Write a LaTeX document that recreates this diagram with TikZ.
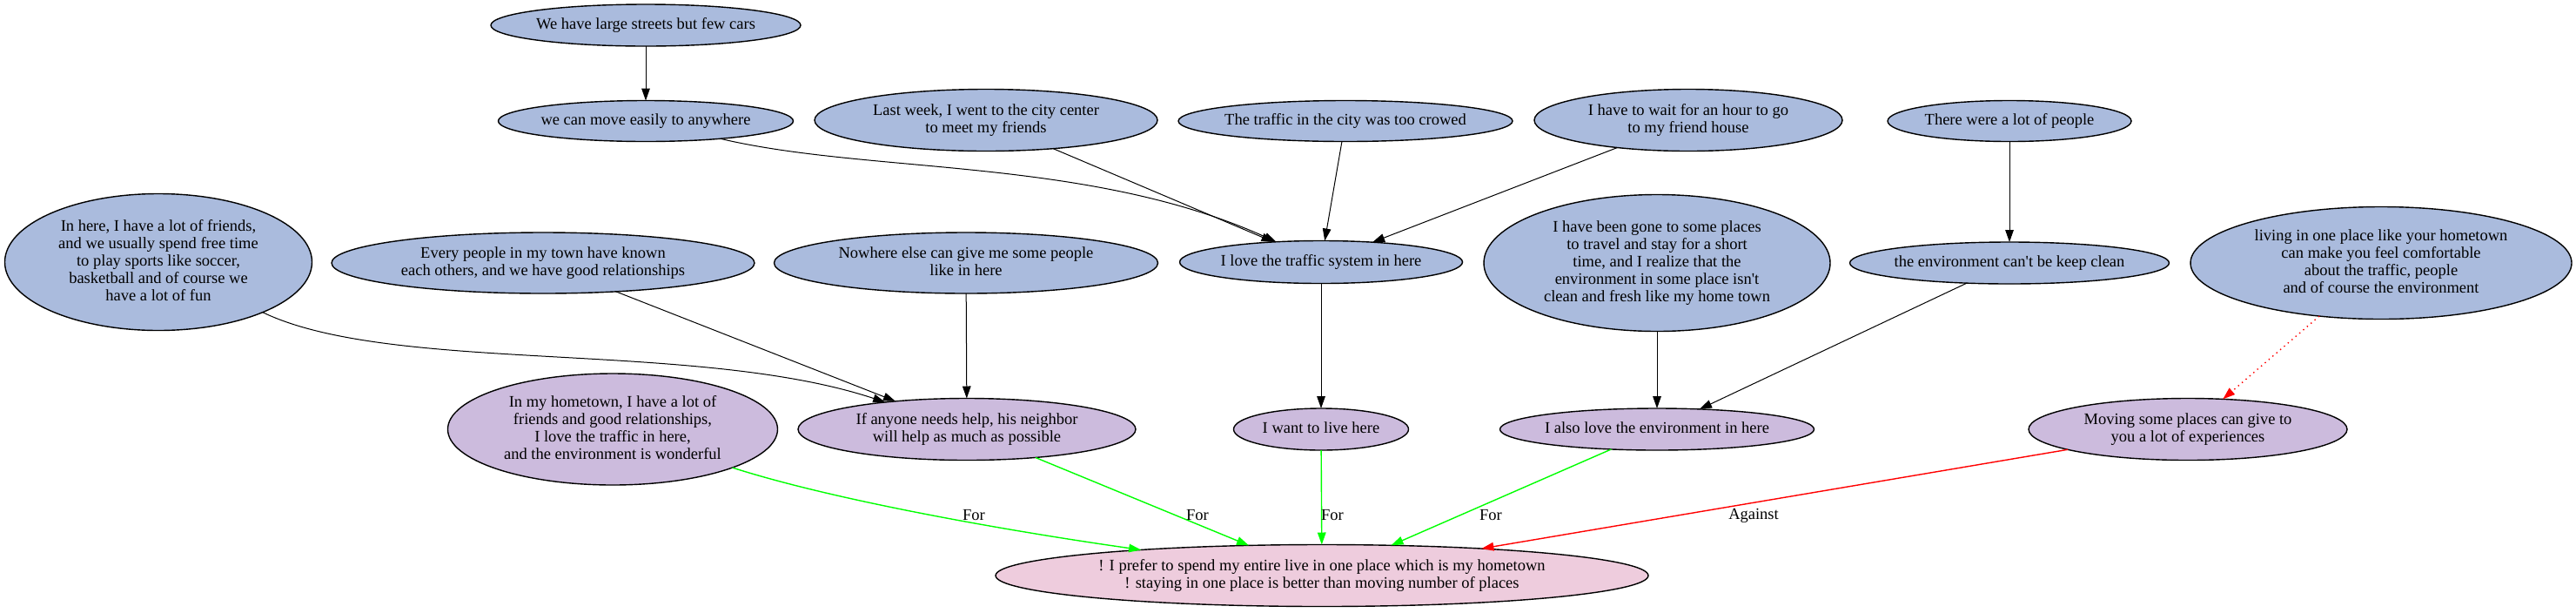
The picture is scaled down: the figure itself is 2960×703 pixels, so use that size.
\documentclass[tikz,border=0pt]{standalone}
\usepackage{fontspec}
\setmainfont{Liberation Serif}
\usetikzlibrary{arrows.meta,shapes.geometric}
\definecolor{nblue}{HTML}{AABBDD}
\definecolor{npurp}{HTML}{CCBBDD}
\definecolor{npink}{HTML}{EECCDD}
\definecolor{egreen}{HTML}{00FF00}
\definecolor{ered}{HTML}{FF0000}
\newcommand{\ntxt}[1]{\raisebox{-0.25em}[0pt][0pt]{\makebox[0pt]{\begin{tabular}{@{}c@{}}#1\end{tabular}}}}
\tikzset{
  base/.style={ellipse, draw=black, line width=0.7pt, inner sep=0pt, outer sep=0pt, font=\fontsize{9.25}{10}\selectfont},
  sz/.style 2 args={minimum width=#1*0.5pt, minimum height=#2*0.5pt},
  prem/.style={base, fill=nblue},
  sub/.style={base, fill=npurp},
  root/.style={base, fill=npink},
  edge/.style={line width=0.5pt, -{Triangle[length=7pt,width=4.8pt]}},
  foredge/.style={edge, draw=egreen, line width=0.7pt},
  conedge/.style={edge, draw=ered, line width=0.7pt},
  dotedge/.style={line width=0.7pt, draw=ered, dash pattern=on 0.7pt off 2.2pt, -{Triangle[length=7pt,width=4.8pt,sep=0pt]}},
  elabel/.style={font=\fontsize{9.25}{10}\selectfont, inner sep=0pt, fill=none, draw=none}
}
\begin{document}
\begin{tikzpicture}[x=0.5pt, y=-0.5pt]
\fill[white] (0,0) rectangle (2960,703);
\useasboundingbox (0,0) rectangle (2960,703);

\node[prem, sz={356}{48}] (A) at (742,29) {\ntxt{We have large streets but few cars}};
\node[prem, sz={339}{47}] (B) at (742,139) {\ntxt{we can move easily to anywhere}};
\node[prem, sz={394}{71}] (C) at (1133,138) {\ntxt{Last week, I went to the city center\\to meet my friends}};
\node[prem, sz={384}{47}] (D) at (1546,139) {\ntxt{The traffic in the city was too crowed}};
\node[prem, sz={354}{71}] (E) at (1940,138) {\ntxt{I have to wait for an hour to go\\to my friend house}};
\node[prem, sz={280}{47}] (I) at (2309,139) {\ntxt{There were a lot of people}};

\node[prem, sz={353}{157}] (L) at (182,301) {\ntxt{In here, I have a lot of friends,\\and we usually spend free time\\to play sports like soccer,\\basketball and of course we\\have a lot of fun}};
\node[prem, sz={486}{70}] (M) at (624,302) {\ntxt{Every people in my town have known\\each others, and we have good relationships}};
\node[prem, sz={441}{70}] (G) at (1110,302) {\ntxt{Nowhere else can give me some people\\like in here}};
\node[prem, sz={325}{49}] (F) at (1518,301) {\ntxt{I love the traffic system in here}};
\node[prem, sz={398}{157}] (H) at (1904,302) {\ntxt{I have been gone to some places\\to travel and stay for a short\\time, and I realize that the\\environment in some place isn\textquotesingle t\\clean and fresh like my home town}};
\node[prem, sz={367}{48}] (J) at (2309,302) {\ntxt{the environment can\textquotesingle t be keep clean}};
\node[prem, sz={438}{129}] (K) at (2736,302) {\ntxt{living in one place like your hometown\\can make you feel comfortable\\about the traffic, people\\and of course the environment}};

\node[sub, sz={379}{128}] (N) at (704,493) {\ntxt{In my hometown, I have a lot of\\friends and good relationships,\\I love the traffic in here,\\and the environment is wonderful}};
\node[sub, sz={388}{71}] (O) at (1111,493) {\ntxt{If anyone needs help, his neighbor\\will help as much as possible}};
\node[sub, sz={201}{48}] (P) at (1518,493) {\ntxt{I want to live here}};
\node[sub, sz={361}{48}] (R) at (1904,493) {\ntxt{I also love the environment in here}};
\node[sub, sz={366}{71}] (S) at (2514,493) {\ntxt{Moving some places can give to\\you a lot of experiences}};

\node[root, sz={750}{71}] (Q) at (1519,661) {\ntxt{! I prefer to spend my entire live in one place which is my hometown\\! staying in one place is better than moving number of places}};

% black edges
\draw[edge] (A) -- (B);
\draw[edge] (B) .. controls (1000,200) and (1250,180) .. (F);
\draw[edge] (C) -- (F);
\draw[edge] (D) -- (F);
\draw[edge] (E) -- (F);
\draw[edge] (I) -- (J);
\draw[edge] (F) -- (P);
\draw[edge] (H) -- (R);
\draw[edge] (J) -- (R);
\draw[edge] (L) .. controls (450,430) and (800,390) .. (O);
\draw[edge] (M) -- (O);
\draw[edge] (G) -- (O);
\draw[dotedge] (K) -- (S);

% support / attack edges
\draw[foredge] (N) .. controls (960,575) and (1160,610) .. (Q);
\draw[foredge] (O) -- (Q);
\draw[foredge] (P) -- (Q);
\draw[foredge] (R) -- (Q);
\draw[conedge] (S) -- (Q);

\node[elabel] (l1) at (1119,592) {For};
\node[elabel] (l2) at (1376,592) {For};
\node[elabel] (l3) at (1531,592) {For};
\node[elabel] (l4) at (1713,592) {For};
\node[elabel] (l5) at (2015,592) {Against};
\end{tikzpicture}
\end{document}
